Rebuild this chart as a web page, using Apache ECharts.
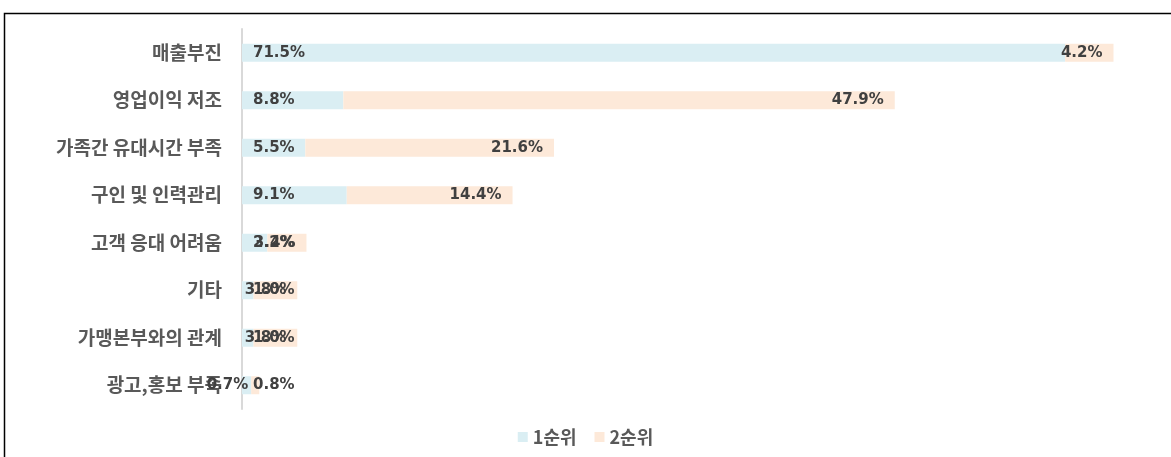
<!DOCTYPE html>
<html>
<head>
<meta charset="utf-8">
<script src="https://cdn.jsdelivr.net/npm/echarts@6/dist/echarts.min.js"></script>
<style>
  html, body { margin: 0; padding: 0; background: #fff; }
  #chart { width: 1171px; height: 457px; }
</style>
</head>
<body>
<div id="chart"></div>
<script>
// 항목 (위에서 아래 순서)
const categories = ['매출부진', '영업이익 저조', '가족간 유대시간 부족', '구인 및 인력관리', '고객 응대 어려움', '기타', '가맹본부와의 관계', '광고,홍보 부족']
const seriesNames = ['1순위', '2순위']
// 1순위 / 2순위 (%)
const rank1 = [71.5, 8.8, 5.5, 9.1, 2.2, 1.0, 1.0, 0.8]
const rank2 = [4.2, 47.9, 21.6, 14.4, 3.4, 3.8, 3.8, 0.7]

const colors = ['#DAEEF3', '#FDE9D9']

var chartDom = document.getElementById('chart');
var myChart = echarts.init(chartDom);

const labelStyle = {
  show: true,
  fontFamily: 'DejaVu Sans',
  fontWeight: 'bold',
  fontSize: 15,
  color: '#404040',
  formatter: p => p.value.toFixed(1) + '%'
}

var option = {
  animation: false,
  color: colors,
  graphic: [{
    type: 'rect',
    shape: { x: 4.5, y: 13.5, width: 1300, height: 600 },
    style: { fill: 'none', stroke: '#000', lineWidth: 1.5 },
    silent: true
  }],
  grid: {
    left: 242,
    right: 8,
    top: 29,
    bottom: 48
  },
  legend: {
    bottom: 6,
    left: 'center',
    itemWidth: 10,
    itemHeight: 10,
    itemGap: 18,
    icon: 'rect',
    textStyle: {
      fontFamily: 'Noto Sans CJK KR',
      fontWeight: 'bold',
      fontSize: 18,
      color: '#595959'
    },
    data: seriesNames
  },
  xAxis: {
    type: 'value',
    min: 0,
    max: 80,
    show: false
  },
  yAxis: {
    type: 'category',
    inverse: true,
    data: categories,
    axisTick: { show: false },
    axisLine: { show: true, lineStyle: { color: '#d9d9d9', width: 2 } },
    axisLabel: {
      margin: 20,
      fontFamily: 'Noto Sans CJK KR',
      fontWeight: 'bold',
      fontSize: 19,
      color: '#595959'
    }
  },
  series: [
    {
      name: seriesNames[0],
      type: 'bar',
      stack: 'rank',
      barWidth: 18,
      data: rank1,
      label: Object.assign({}, labelStyle, { position: 'insideLeft', distance: 11 })
    },
    {
      name: seriesNames[1],
      type: 'bar',
      stack: 'rank',
      barWidth: 18,
      data: rank2,
      label: Object.assign({}, labelStyle, { position: 'insideRight', distance: 11 })
    }
  ]
};

option && myChart.setOption(option);
</script>
</body>
</html>
